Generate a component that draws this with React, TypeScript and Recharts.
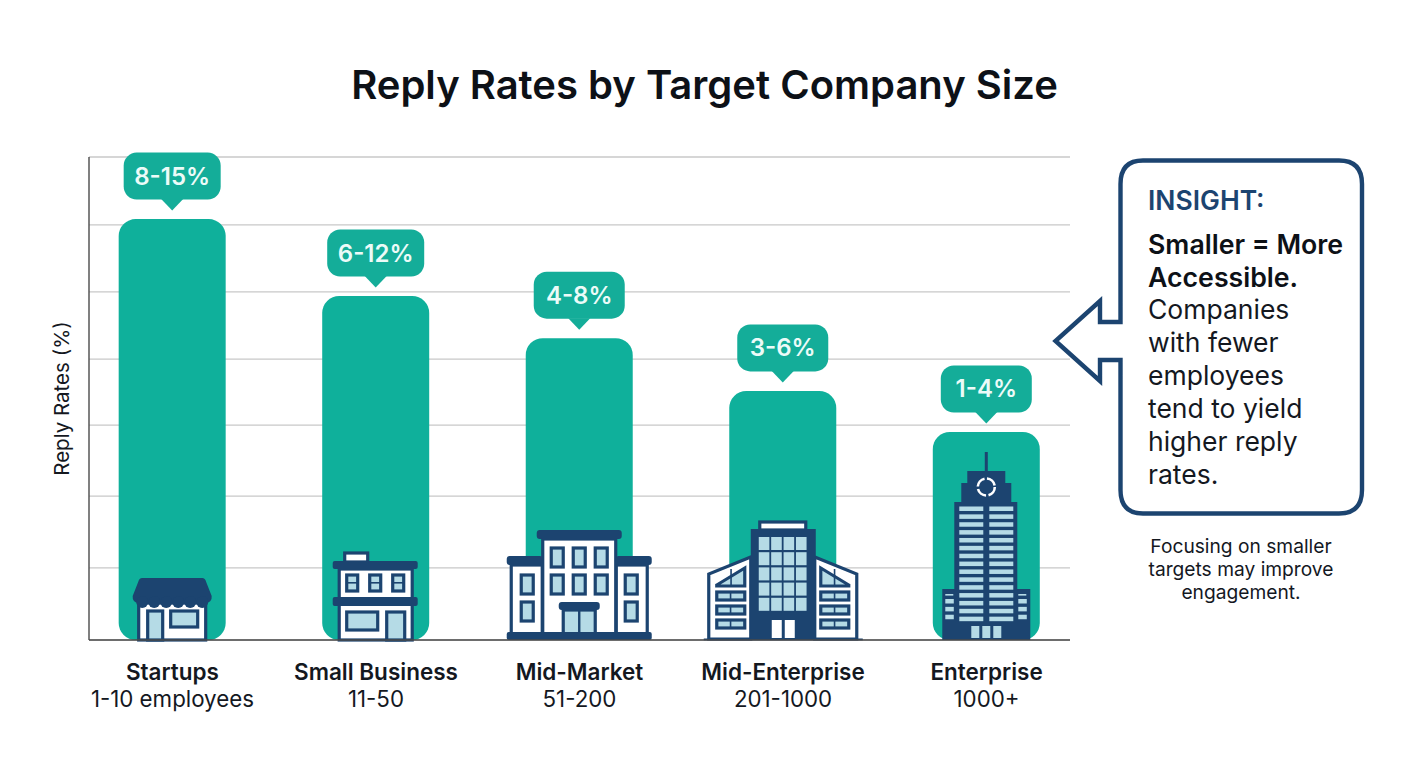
import React from "react";
import { BarChart, Bar, XAxis, YAxis, CartesianGrid, LabelList, Label } from "recharts";

const FONT = "Inter, 'Noto Sans', sans-serif";
const NAVY = "#1c4470";
const GLASS = "#b5dbe6";
const TEAL = "#0fb09b";
const BUBBLE = "#14ad99";

const categories = ["Startups", "Small Business", "Mid-Market", "Mid-Enterprise", "Enterprise"];
const subLabels = ["1-10 employees", "11-50", "51-200", "201-1000", "1000+"];
const rangeLabels = ["8-15%", "6-12%", "4-8%", "3-6%", "1-4%"];
const barValues = [12.2, 9.97, 8.75, 7.22, 6.03];
const gridTicks = [0, 2.09, 4.17, 6.23, 8.14, 10.09, 12.03, 14];
const xTicks = [0, 1, 2, 3, 4];
const insightBold = ["Smaller = More", "Accessible."];
const insightBody = ["Companies", "with fewer", "employees", "tend to yield", "higher reply", "rates."];
const footnote = ["Focusing on smaller", "targets may improve", "engagement."];

const data = categories.map((name, idx) => ({ idx, name, sub: subLabels[idx], value: barValues[idx], range: rangeLabels[idx] }));

const SW = 3.2;
type RP = { x: number; y: number; w: number; h: number; f?: string; s?: boolean; r?: number };
const R = ({ x, y, w, h, f = NAVY, s, r = 0 }: RP) => (
  <rect x={x} y={y} width={w} height={h} fill={f} rx={r} stroke={s ? NAVY : "none"} strokeWidth={s ? SW : 0} />
);

// Icon geometry: dx from bar centre, dy from baseline (negative = up)
const Store = () => (
  <g>
    <R x={-33.5} y={-37} w={67} h={37} f="#fff" s />
    <path d="M-30,-62 H30 Q33,-62 34,-58 L39.5,-44 Q40,-38 34,-37 H-34 Q-40,-38 -39.5,-44 L-34,-58 Q-33,-62 -30,-62 Z" fill={NAVY} />
    {[-30, -18, -6, 6, 18, 30].map((c) => (
      <circle key={c} cx={c} cy={-38} r={6} fill={NAVY} />
    ))}
    <R x={-24.5} y={-29} w={15} h={29} f={GLASS} s />
    <R x={-1.5} y={-29} w={27} h={16} f={GLASS} s />
  </g>
);

const Small = () => (
  <g>
    <R x={-31} y={-87} w={23} h={9} f="#fff" s />
    <R x={-36.5} y={-71} w={73} h={71} f="#fff" s />
    <R x={-43} y={-79} w={85} h={8} r={2} />
    <R x={-43} y={-43} w={85} h={9} r={2} />
    {[-29, -6, 17].map((c) => (
      <g key={c}>
        <R x={c} y={-65} w={11} h={16} f={GLASS} s />
        <R x={c} y={-58} w={11} h={1.6} />
      </g>
    ))}
    <R x={-29} y={-28} w={31} h={18} f={GLASS} s />
    <R x={11} y={-28} w={18} h={28} f={GLASS} s />
  </g>
);

const Mid = () => (
  <g>
    <R x={-68} y={-75} w={31} h={70} f="#fff" s />
    <R x={37} y={-75} w={31} h={70} f="#fff" s />
    <R x={-36.5} y={-101} w={73} h={96} f="#fff" s />
    <R x={-72.5} y={-84} w={36} h={9} r={3} />
    <R x={36.5} y={-84} w={36} h={9} r={3} />
    <R x={-42.5} y={-110} w={85} h={9} r={3} />
    {[-28, -6, 16].flatMap((c) =>
      [-92, -65].map((r) => <R key={`${c}${r}`} x={c} y={r} w={12} h={19} f={GLASS} s />)
    )}
    {[-58, 46].flatMap((c) =>
      [-65, -38].map((r) => <R key={`${c}${r}`} x={c} y={r} w={12} h={19} f={GLASS} s />)
    )}
    <R x={-16} y={-30} w={32} h={24} f={GLASS} s />
    <R x={-1.2} y={-30} w={2.4} h={24} />
    <R x={-20.5} y={-38} w={41} h={8} r={3} />
    <R x={-72.5} y={-8} w={145} h={8} r={2} />
  </g>
);

const MidEnt = () => (
  <g>
    <path d="M-32,-83 L-74,-66 V-1 H-32 Z" fill="#fff" stroke={NAVY} strokeWidth={SW} />
    <path d="M32,-83 L74,-66 V-1 H32 Z" fill="#fff" stroke={NAVY} strokeWidth={SW} />
    <path d="M-66,-55 L-38,-72 V-54 H-66 Z" fill={GLASS} stroke={NAVY} strokeWidth={SW} />
    <path d="M66,-55 L38,-72 V-54 H66 Z" fill={GLASS} stroke={NAVY} strokeWidth={SW} />
    <R x={-52.5} y={-71} w={1.6} h={17} />
    <R x={51} y={-71} w={1.6} h={17} />
    {[-48, -34, -20].flatMap((r) =>
      [-66, 38].map((c) => (
        <g key={`${c}${r}`}>
          <R x={c} y={r} w={28} h={8} f={GLASS} s />
          <R x={c + 13} y={r} w={1.6} h={8} />
        </g>
      ))
    )}
    <R x={-23} y={-118} w={46} h={8} f="#fff" s />
    <R x={-32} y={-111} w={65} h={110} />
    {[0, 1, 2, 3].flatMap((c) =>
      [0, 1, 2, 3, 4].map((r) => <R key={`${c}${r}`} x={-24 + c * 12.4} y={-103 + r * 15.2} w={10.6} h={13} f={GLASS} />)
    )}
    <R x={-11} y={-20} w={10} h={18} f="#fff" />
    <R x={2} y={-20} w={10} h={18} f="#fff" />
    <R x={-79} y={-1.5} w={159} h={1.8} />
  </g>
);

const bigRows = [0, 1, 2, 3, 4, 5, 6, 7, 8, 9, 10, 11, 12, 13, 14];
const Tower = () => (
  <g>
    <R x={-1.5} y={-188} w={3} h={22} />
    <R x={-19} y={-169} w={38} h={14} />
    <R x={-25} y={-157} w={50} h={21} />
    <R x={-32} y={-138} w={63} h={90} />
    <R x={-44} y={-51} w={88} h={51} />
    <circle cx={0} cy={-153} r={8.5} fill="none" stroke="#fff" strokeWidth={2.6} strokeDasharray="11 2.5" />
    {bigRows.flatMap((i) =>
      [-27, 3].map((c) => <R key={`${c}${i}`} x={c} y={-133.5 + i * 7.87} w={24} h={4.5} f={GLASS} />)
    )}
    {[0, 1, 2].flatMap((i) =>
      [-41, 32].map((c) => <R key={`${c}${i}`} x={c} y={-41 + i * 7.87} w={8.5} h={4.5} f={GLASS} />)
    )}
    <R x={-41} y={-46} w={8} h={1.6} f={GLASS} />
    <R x={32} y={-46} w={8} h={1.6} f={GLASS} />
    {[-15, -4, 7].map((c) => (
      <R key={c} x={c} y={-14} w={8} h={12} f={GLASS} />
    ))}
  </g>
);

const icons = [Store, Small, Mid, MidEnt, Tower];

const BarWithIcon = (props: any) => {
  const { x, y, width, height, index } = props;
  const Icon = icons[index];
  return (
    <g>
      <rect x={x} y={y} width={width} height={height} rx={17} fill={TEAL} />
      <g transform={`translate(${x + width / 2},${y + height})`}>
        <Icon />
      </g>
    </g>
  );
};

const RangeBubble = (props: any) => {
  const { x, y, width, value } = props;
  const cx = x + width / 2;
  const w = String(value).length > 4 ? 97 : 91;
  const top = y - 66.5;
  const bottom = y - 19.5;
  return (
    <g>
      <rect x={cx - w / 2} y={top} width={w} height={bottom - top} rx={13} fill={BUBBLE} />
      <path d={`M${cx - 11},${bottom - 0.5} L${cx},${bottom + 11} L${cx + 11},${bottom - 0.5} Z`} fill={BUBBLE} />
      <text x={cx} y={top + 32} textAnchor="middle" fontFamily={FONT} fontSize={24} fontWeight={600} fill="#ecfbf8">
        {value}
      </text>
    </g>
  );
};

const CategoryTick = (props: any) => {
  const { x, y, payload } = props;
  const i = payload.value;
  return (
    <g>
      <text x={x} y={y + 32} textAnchor="middle" fontFamily={FONT} fontSize={22.5} fontWeight={600} fill="#14181f">
        {categories[i]}
      </text>
      <text x={x} y={y + 59} textAnchor="middle" fontFamily={FONT} fontSize={22.3} fill="#14181f">
        {subLabels[i]}
      </text>
    </g>
  );
};

const abs = (left: number, top: number): React.CSSProperties => ({ position: "absolute", left, top, whiteSpace: "nowrap" });

const App = () => (
  <div style={{ position: "absolute", left: 0, top: 0, width: 1408, height: 768, background: "#fff", fontFamily: FONT, overflow: "hidden" }}>
    <div style={{ position: "absolute", left: 0, width: 1409, top: 60, textAlign: "center", fontSize: 40, fontWeight: 600, color: "#0d1117", lineHeight: "50px" }}>
      Reply Rates by Target Company Size
    </div>
    <BarChart
      width={1408}
      height={768}
      data={data}
      margin={{ top: 157, right: 338, bottom: 0, left: 29 }}
      style={{ position: "absolute", left: 0, top: 0 }}
    >
      <CartesianGrid vertical={false} stroke="#c8c8c8" strokeWidth={1.3} syncWithTicks />
      <XAxis
        dataKey="idx"
        type="number"
        domain={[-0.41, 4.41]}
        ticks={xTicks}
        interval={0}
        height={128}
        tick={<CategoryTick />}
        tickLine={false}
        axisLine={{ stroke: "#4a4a4a", strokeWidth: 1.6 }}
      />
      <YAxis
        type="number"
        domain={[0, 14]}
        ticks={gridTicks}
        interval={0}
        width={60}
        tick={() => <g />}
        tickLine={false}
        axisLine={{ stroke: "#4a4a4a", strokeWidth: 1.4 }}
      >
        <Label value="Reply Rates (%)" angle={-90} position="center" dx={3} fontFamily={FONT} fontSize={20.5} fill="#14181f" />
      </YAxis>
      <Bar dataKey="value" barSize={107} isAnimationActive={false} shape={<BarWithIcon />}>
        <LabelList dataKey="range" content={<RangeBubble />} />
      </Bar>
    </BarChart>

    <svg width={1408} height={768} style={{ position: "absolute", left: 0, top: 0 }}>
      <path
        d="M1143,160.5 H1339 Q1362,160.5 1362,184 V490 Q1362,513.5 1339,513.5 H1143 Q1120.5,513.5 1120.5,490 V360 H1100 V381 L1055.5,341 L1100,301 V322 H1120.5 V184 Q1120.5,160.5 1143,160.5 Z"
        fill="#fff"
        stroke={NAVY}
        strokeWidth={4.4}
        strokeLinejoin="miter"
      />
    </svg>

    <div style={{ ...abs(1148, 184), fontSize: 26.5, fontWeight: 600, color: NAVY, lineHeight: "33px" }}>INSIGHT:</div>
    {insightBold.map((t, i) => (
      <div key={t} style={{ ...abs(1148, 228 + i * 32.5), fontSize: 26.7, fontWeight: 600, color: "#0d1117", lineHeight: "33px" }}>
        {t}
      </div>
    ))}
    {insightBody.map((t, i) => (
      <div key={t} style={{ ...abs(1148, 293 + i * 33), fontSize: 26.5, color: "#14181f", lineHeight: "33px" }}>
        {t}
      </div>
    ))}
    {footnote.map((t, i) => (
      <div key={t} style={{ position: "absolute", left: 1091, width: 300, top: 534 + i * 23, textAlign: "center", fontSize: 19.2, color: "#14181f", lineHeight: "24px" }}>
        {t}
      </div>
    ))}
  </div>
);

export default App;
